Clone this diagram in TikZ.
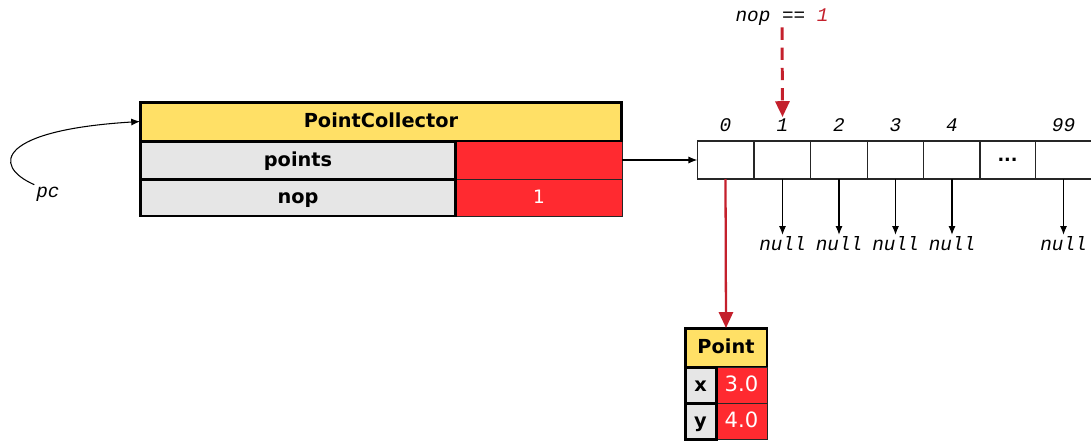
\documentclass[tikz,border=0pt]{standalone}
\usepackage{fontspec}
\setsansfont{DejaVu Sans}
\newfontfamily\codefont{Liberation Mono}
\usetikzlibrary{arrows.meta}

\definecolor{hdryellow}{HTML}{FFE066}
\definecolor{cellgray}{HTML}{E6E6E6}
\definecolor{valred}{HTML}{FF2A30}
\definecolor{ptrred}{HTML}{C4202C}

\tikzset{
  hdr/.style={draw, line width=1.7pt, fill=hdryellow, inner sep=0pt, outer sep=0pt,
    text height=0.73em, text depth=0pt, font=\sffamily\bfseries\fontsize{11}{13}\selectfont},
  lbl/.style={draw, line width=1.7pt, fill=cellgray, inner sep=0pt, outer sep=0pt,
    text height=0.73em, text depth=0pt, font=\sffamily\bfseries\fontsize{11}{13}\selectfont},
  val/.style={draw=black!85, line width=0.5pt, fill=valred, text=white, inner sep=0pt, outer sep=0pt,
    text height=0.73em, text depth=0pt, font=\sffamily\fontsize{10.5}{12}\selectfont},
  slot/.style={draw=black!85, line width=0.6pt, minimum width=1.13cm, minimum height=0.76cm,
    inner sep=0pt, outer sep=0pt},
  code/.style={font=\codefont\itshape\fontsize{11}{13}\selectfont, inner sep=1pt},
  ptr/.style={-{Latex[length=5pt,width=4pt]}, line width=0.6pt},
  redptr/.style={-{Triangle[length=9pt,width=8pt]}, ptrred, line width=1.3pt},
}

\begin{document}
\begin{tikzpicture}[x=0.02cm, y=-0.02cm]
    \useasboundingbox (0,0) rectangle (1091,440);

    % PointCollector
    \node[val, minimum width=3.32cm, minimum height=0.76cm] (pval) at (539,160) {};
    \node[val, minimum width=3.32cm, minimum height=0.74cm] (nval) at (539,197.5) {1};
    \node[hdr, minimum width=9.64cm, minimum height=0.78cm] (pcbox) at (381,121.5) {PointCollector};
    \node[lbl, minimum width=6.32cm, minimum height=0.76cm] (plbl) at (298,160) {points};
    \node[lbl, minimum width=6.32cm, minimum height=0.74cm] (nlbl) at (298,197.5) {nop};

    % Variable pc
    \node[code] (pc) at (48,194) {pc};
    \draw[ptr] (pc.north west) .. controls (-10,165) and (0,130) .. (pcbox.west);

    % Array
    \foreach \i/\x in {0/725.5, 1/782.5, 2/839, 3/895.5, 4/952, 5/1007.5, 6/1063.5}
        \node[slot] (s\i) at (\x,160) {};
    \node[font=\sffamily\bfseries\fontsize{10}{12}\selectfont] (dots) at (s5) {...};

    \foreach \i/\t in {0/0, 1/1, 2/2, 3/3, 4/4, 6/99}
        \node[code, above=4pt] (idx\i) at (s\i.north) {\t};

    \foreach \i in {1,2,3,4,6} {
        \path (s\i.south) ++(0,65) node[code] (null\i) {null};
        \draw[ptr] (s\i.south) to (null\i.north);
    }

    \draw[ptr] (pval.east) to (s0.west);

    % nop == 1
    \node[code] (cond) at (782,17) {nop == \textcolor{ptrred}{1}};
    \draw[redptr, dash pattern=on 7pt off 4.5pt, line width=1.7pt] (cond.south) to (idx1.north);

    % Point
    \node[hdr, minimum width=1.64cm, minimum height=0.78cm] (ptbox) at (726,347.5) {Point};
    \node[val, minimum width=1.02cm, minimum height=0.72cm, font=\sffamily\fontsize{12}{14}\selectfont] (xval) at (741.5,385) {3.0};
    \node[val, minimum width=1.02cm, minimum height=0.72cm, font=\sffamily\fontsize{12}{14}\selectfont] (yval) at (741.5,421) {4.0};
    \node[lbl, minimum width=0.62cm, minimum height=0.72cm] (xlbl) at (700.5,385) {x};
    \node[lbl, minimum width=0.62cm, minimum height=0.72cm] (ylbl) at (700.5,421) {y};

    \draw[redptr] (s0.south) to (ptbox.north);
\end{tikzpicture}
\end{document}
